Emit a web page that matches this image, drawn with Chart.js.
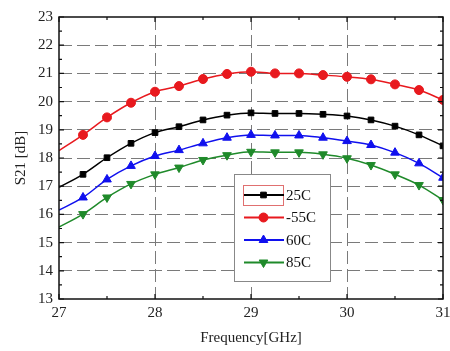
<!DOCTYPE html>
<html><head><meta charset="utf-8">
<script src="https://cdn.jsdelivr.net/npm/chart.js@4/dist/chart.umd.min.js"></script>
<style>html,body{margin:0;padding:0;background:#fff;}#wrap{width:450px;height:351px;position:relative;}</style>
</head><body><div id="wrap"><canvas id="c" width="450" height="351"></canvas></div>
<script>
const freqs = [27,27.25,27.5,27.75,28,28.25,28.5,28.75,29,29.25,29.5,29.75,30,30.25,30.5,30.75,31];
const s25 = [16.96,17.42,18.01,18.52,18.9,19.11,19.35,19.52,19.6,19.58,19.58,19.55,19.49,19.35,19.13,18.82,18.43];
const sM55 = [18.26,18.82,19.44,19.96,20.35,20.55,20.8,20.98,21.06,21.0,21.0,20.94,20.88,20.79,20.61,20.41,20.06];
const s60 = [16.15,16.6,17.24,17.72,18.07,18.28,18.52,18.72,18.82,18.8,18.8,18.72,18.6,18.46,18.19,17.81,17.3];
const s85 = [15.55,16.01,16.6,17.08,17.42,17.66,17.93,18.1,18.22,18.2,18.2,18.13,17.99,17.75,17.42,17.04,16.51];
const seriesLabels = ['25C','-55C','60C','85C'];
const xTicks = [27,28,29,30,31];
const yTicks = [13,14,15,16,17,18,19,20,21,22,23];

const FONT = "'Liberation Serif','Times New Roman',serif";
const colors = ['#000000','#e8191e','#1010ee','#1f8a2a'];
const pstyles = ['rect','circle','triangle','triangle'];
const rots = [0,0,0,180];
const radii = [4,4.5,5,5];
const all = [s25,sM55,s60,s85];

const datasets = all.map((arr,i)=>({
  label: seriesLabels[i],
  data: freqs.map((f,j)=>({x:f,y:arr[j]})),
  borderColor: colors[i], backgroundColor: colors[i],
  borderWidth: 1.5, pointStyle: pstyles[i], pointRotation: rots[i],
  pointRadius: ctx => ctx.dataIndex===0 ? 0 : radii[i],
  pointBorderWidth: 1, tension: 0.3, cubicInterpolationMode: 'monotone'
}));

const frame = {
  id:'frame',
  afterDraw(chart){
    const {ctx, chartArea:a, scales:{x,y}} = chart;
    ctx.save();
    ctx.strokeStyle='#111'; ctx.lineWidth=1.5;
    ctx.strokeRect(a.left,a.top,a.right-a.left,a.bottom-a.top);
    ctx.lineWidth=1.2;
    ctx.beginPath();
    for(let v=27; v<=31.001; v+=0.5){
      const px=x.getPixelForValue(v); const L = Math.abs(v-Math.round(v))<1e-6?5:3;
      ctx.moveTo(px,a.bottom); ctx.lineTo(px,a.bottom-L);
      ctx.moveTo(px,a.top); ctx.lineTo(px,a.top+L);
    }
    for(let v=13; v<=23.001; v+=0.5){
      const py=y.getPixelForValue(v); const L = Math.abs(v-Math.round(v))<1e-6?5:3;
      ctx.moveTo(a.left,py); ctx.lineTo(a.left+L,py);
      ctx.moveTo(a.right,py); ctx.lineTo(a.right-L,py);
    }
    ctx.stroke();
    // legend
    const bx=234.5, by=174.5, bw=96, bh=107;
    ctx.fillStyle='#fff'; ctx.fillRect(bx,by,bw,bh);
    ctx.strokeStyle='#888'; ctx.lineWidth=1; ctx.strokeRect(bx,by,bw,bh);
    ctx.strokeStyle='#e07070'; ctx.strokeRect(243.5,185.5,40,20);
    const rows=[195,217.5,240,262.5];
    chart.data.datasets.forEach((ds,i)=>{
      const yy=rows[i];
      ctx.strokeStyle=ds.borderColor; ctx.lineWidth=1.8;
      ctx.beginPath(); ctx.moveTo(244,yy); ctx.lineTo(284,yy); ctx.stroke();
      ctx.fillStyle=ds.backgroundColor; ctx.strokeStyle=ds.borderColor; ctx.lineWidth=1;
      Chart.helpers.drawPoint(ctx,{pointStyle:ds.pointStyle,rotation:ds.pointRotation,radius:radii[i],borderWidth:1},263.5,yy);
      ctx.fillStyle='#111'; ctx.font="15px "+FONT; ctx.textBaseline='middle'; ctx.textAlign='left';
      ctx.fillText(ds.label,286,yy+1);
    });
    ctx.restore();
  }
};

new Chart(document.getElementById('c'),{
  type:'line',
  data:{datasets},
  options:{
    responsive:false, animation:false, devicePixelRatio:1,
    layout:{padding:{top:17,right:7,left:8,bottom:0}},
    plugins:{legend:{display:false},tooltip:{enabled:false}},
    scales:{
      x:{type:'linear',min:27,max:31,
        afterBuildTicks: s=>{s.ticks=xTicks.map(v=>({value:v}));},
        afterFit: s=>{s.height=52; s.paddingLeft=0; s.paddingRight=0;},
        ticks:{font:{family:FONT,size:15},color:'#222',padding:5,maxRotation:0},
        grid:{drawTicks:false,color:c=>(c.tick&&(c.tick.value===27||c.tick.value===31))?'rgba(0,0,0,0)':'#7a7a7a',lineWidth:1},
        border:{display:false,dash:[13,5]},
        title:{display:true,text:'Frequency[GHz]',font:{family:FONT,size:15},color:'#222',padding:{top:4}}
      },
      y:{type:'linear',min:13,max:23,
        afterBuildTicks: s=>{s.ticks=yTicks.map(v=>({value:v}));},
        afterFit: s=>{s.width=51; s.paddingTop=0; s.paddingBottom=0;},
        ticks:{font:{family:FONT,size:15},color:'#222',padding:6},
        grid:{drawTicks:false,color:c=>(c.tick&&(c.tick.value===13||c.tick.value===23))?'rgba(0,0,0,0)':'#7a7a7a',lineWidth:1},
        border:{display:false,dash:[13,5]},
        title:{display:true,text:'S21 [dB]',font:{family:FONT,size:15},color:'#222',padding:{bottom:2}}
      }
    }
  },
  plugins:[frame]
});
</script></body></html>
